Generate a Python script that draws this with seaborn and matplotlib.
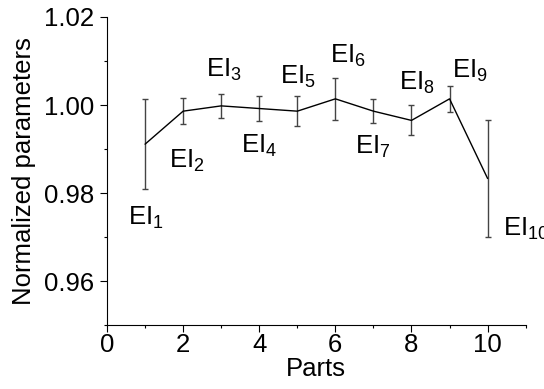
import numpy as np
import seaborn as sns
import matplotlib.pyplot as plt
from matplotlib.ticker import MultipleLocator

# values
parts = [1, 2, 3, 4, 5, 6, 7, 8, 9, 10]
norm_values = [0.9911, 0.9986, 0.9998, 0.9992, 0.9986, 1.0014, 0.9986, 0.9965, 1.0014, 0.9833]
errors = [0.0103, 0.0029, 0.0027, 0.0028, 0.0034, 0.0047, 0.0028, 0.0034, 0.0029, 0.0133]
labels = ['EI$_{1}$', 'EI$_{2}$', 'EI$_{3}$', 'EI$_{4}$', 'EI$_{5}$',
          'EI$_{6}$', 'EI$_{7}$', 'EI$_{8}$', 'EI$_{9}$', 'EI$_{10}$']

# label placement relative to each point (points)
label_offsets = [(-12, -58), (-10, -41), (-11, 21), (-13, -32), (-12.5, 20),
                 (-4, 26), (-13, -31), (-9, 22), (2, 15), (11, -41)]

sns.set_theme(style="ticks")
plt.rcParams['font.family'] = ['Liberation Sans', 'DejaVu Sans']
plt.rcParams['mathtext.fontset'] = 'custom'
plt.rcParams['mathtext.rm'] = 'Liberation Sans'
plt.rcParams['mathtext.it'] = 'Liberation Sans:italic'
plt.rcParams['mathtext.default'] = 'regular'

fig = plt.figure(figsize=(5.44, 3.89), dpi=100)
ax = fig.add_axes([0.1967, 0.1645, 0.7696, 0.7918])

ax.errorbar(parts, norm_values, yerr=errors, fmt='none', ecolor='#444444',
            elinewidth=1.0, capsize=2.5, capthick=1.0)
sns.lineplot(x=parts, y=norm_values, color='black', linewidth=1.0, ax=ax)

for x, y, lab, off in zip(parts, norm_values, labels, label_offsets):
    ax.annotate(lab, (x, y), xytext=off, textcoords='offset points',
                ha='left', va='baseline', fontsize=18.5, color='black')

ax.set_xlim(0, 11)
ax.set_ylim(0.95, 1.02)
ax.xaxis.set_major_locator(MultipleLocator(2))
ax.xaxis.set_minor_locator(MultipleLocator(1))
ax.yaxis.set_major_locator(MultipleLocator(0.02))
ax.yaxis.set_minor_locator(MultipleLocator(0.01))
ax.tick_params(which='major', direction='out', length=5, width=0.8, labelsize=18.5,
               color='black', labelcolor='black')
ax.tick_params(which='minor', direction='out', length=2.5, width=0.8, color='black')
ax.tick_params(axis='x', which='major', pad=1)
ax.tick_params(axis='y', which='major', pad=4)

for side in ['top', 'right']:
    ax.spines[side].set_visible(False)
for side in ['left', 'bottom']:
    ax.spines[side].set_color('black')
    ax.spines[side].set_linewidth(0.8)

ax.set_xlabel('Parts', fontsize=18.5, labelpad=0, color='black')
ax.set_ylabel('Normalized parameters', fontsize=18.5, labelpad=6, color='black')

fig.savefig('out.png', dpi=100)
